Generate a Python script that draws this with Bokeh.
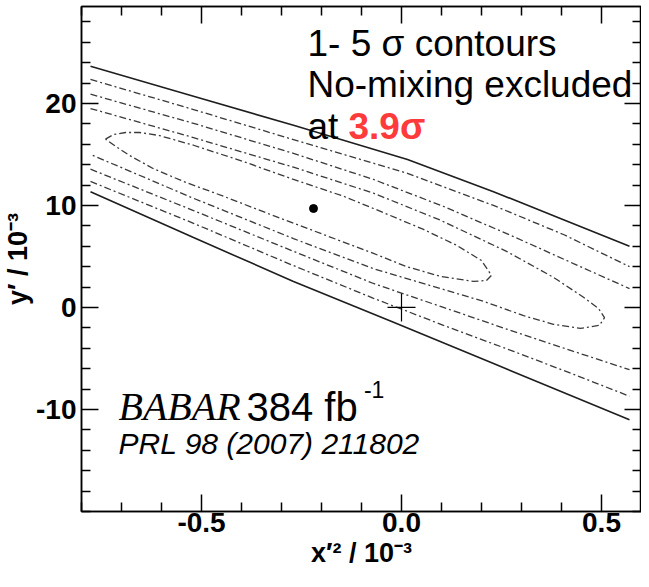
from bokeh.plotting import figure
from bokeh.models import Range1d, LinearAxis, FixedTicker, Label
from bokeh.embed import file_html
from bokeh.resources import INLINE

try:
    from bokeh.core.enums import CoordinateUnits
    CANVAS = "canvas" if "canvas" in CoordinateUnits else "screen"
except Exception:
    CANVAS = "screen"

# ---- axis ticks ----
x_ticks = [-0.5, 0.0, 0.5]
x_tick_labels = ["-0.5", "0.0", "0.5"]
x_minor = [-0.8, -0.7, -0.6, -0.4, -0.3, -0.2, -0.1, 0.1, 0.2, 0.3, 0.4, 0.6]
y_ticks = [-10, 0, 10, 20]
y_tick_labels = ["-10", "0", "10", "20"]
y_minor = [-20, -18, -16, -14, -12, -8, -6, -4, -2, 2, 4, 6, 8,
           12, 14, 16, 18, 22, 24, 26, 28]

# ---- contours ----
# 5 sigma (solid), upper and lower branch
c5_top_x = [-0.7775, -0.52, -0.27, 0.015, 0.23, 0.405, 0.57]
c5_top_y = [23.65, 20.7, 17.85, 14.5, 11.35, 8.6, 6.0]
c5_bot_x = [-0.7775, -0.52, -0.27, -0.02, 0.23, 0.57]
c5_bot_y = [11.35, 6.85, 2.55, -1.45, -5.5, -11.0]
# 4 sigma (dash-dot)
c4_top_x = [-0.7775, -0.52, -0.27, 0.015, 0.23, 0.405, 0.57]
c4_top_y = [22.35, 19.4, 16.45, 13.15, 10.0, 7.15, 4.0]
c4_bot_x = [-0.7775, -0.52, -0.27, -0.07, 0.105, 0.28, 0.43, 0.57]
c4_bot_y = [12.35, 8.25, 4.1, 0.9, -1.75, -4.3, -6.55, -8.7]
# 3 sigma (dash-dot)
c3_top_x = [-0.7775, -0.52, -0.27, -0.07, 0.105, 0.28, 0.43, 0.57]
c3_top_y = [20.9, 18.05, 15.1, 12.55, 9.9, 6.95, 4.3, 1.85]
c3_bot_x = [-0.7775, -0.52, -0.27, -0.07, 0.105, 0.28, 0.43, 0.57]
c3_bot_y = [13.55, 9.5, 5.5, 2.35, 0.0, -2.35, -4.3, -6.1]
# 2 sigma (dash-dot), closes on the right
c2_x = [-0.7775, -0.52, -0.27, -0.07, 0.0975, 0.2625, 0.38, 0.455,
        0.4925, 0.5075, 0.495, 0.4475, 0.38, 0.305, 0.205, 0.0975, -0.07,
        -0.27, -0.52, -0.7775]
c2_y = [19.5, 16.65, 13.75, 11.2, 8.55, 5.5, 2.95, 1.0,
        -0.1, -1.0, -1.75, -2.05, -1.65, -0.8, 0.6, 1.85, 3.8,
        6.75, 10.7, 15.0]
# 1 sigma (dash-dot), closed
c1_x = [-0.74, -0.72, -0.69, -0.655, -0.605, -0.52, -0.395, -0.27, -0.145,
        -0.07, 0.055, 0.1375, 0.20, 0.225, 0.2125, 0.18, 0.0975, 0.0125,
        -0.07, -0.195, -0.32, -0.445, -0.545, -0.62, -0.68, -0.715, -0.74]
c1_y = [16.5, 16.95, 17.15, 17.15, 16.85, 15.9, 14.3, 12.55, 10.9,
        9.7, 7.65, 6.1, 4.6, 3.15, 2.65, 2.55, 3.05, 4.0,
        5.3, 7.15, 9.0, 10.9, 12.35, 13.6, 14.9, 15.8, 16.5]
# best fit point and no-mixing point
fit_x = [-0.22]
fit_y = [9.7]
nomix_x = [0.0]
nomix_y = [0.0]

FONT = "Liberation Sans"

p = figure(width=641, height=579,
           x_range=Range1d(-0.8, 0.6), y_range=Range1d(-20, 29.5),
           output_backend="svg", toolbar_location=None,
           min_border_left=77, min_border_right=0,
           min_border_top=6, min_border_bottom=68,
           x_axis_label="x\u2032\u00b2 / 10\u207b\u00b3",
           y_axis_label="y\u2032 / 10\u207b\u00b3")
p.background_fill_color = "white"
p.border_fill_color = "white"
p.outline_line_color = "black"
p.outline_line_width = 1.5
p.xgrid.visible = False
p.ygrid.visible = False


def style_axis(ax, ticks, minor, labels, show_labels):
    ax.ticker = FixedTicker(ticks=ticks, minor_ticks=minor)
    ax.axis_line_color = "black"
    ax.axis_line_width = 1.5
    ax.major_tick_in = 17
    ax.major_tick_out = 0
    ax.minor_tick_in = 9
    ax.minor_tick_out = 0
    ax.major_tick_line_width = 1.5
    ax.minor_tick_line_width = 1.5
    ax.major_tick_line_color = "black"
    ax.minor_tick_line_color = "black"
    if show_labels:
        ax.major_label_overrides = {t: l for t, l in zip(ticks, labels)}
        ax.major_label_text_font = FONT
        ax.major_label_text_font_size = "28px"
        ax.major_label_text_font_style = "bold"
        ax.major_label_text_color = "black"
        ax.axis_label_text_font = FONT
        ax.axis_label_text_font_size = "27px"
        ax.axis_label_text_font_style = "bold"
        ax.axis_label_text_color = "black"
    else:
        ax.major_label_overrides = {t: "" for t in ticks}
        ax.major_label_text_font_size = "0px"
        ax.major_label_standoff = 0


style_axis(p.xaxis[0], x_ticks, x_minor, x_tick_labels, True)
style_axis(p.yaxis[0], y_ticks, y_minor, y_tick_labels, True)
p.xaxis[0].major_label_standoff = 1
p.xaxis[0].axis_label_standoff = 3
p.yaxis[0].major_label_standoff = 5
p.yaxis[0].axis_label_standoff = 0

top_axis = LinearAxis()
style_axis(top_axis, x_ticks, x_minor, x_tick_labels, False)
p.add_layout(top_axis, "above")
right_axis = LinearAxis()
style_axis(right_axis, y_ticks, y_minor, y_tick_labels, False)
p.add_layout(right_axis, "right")

SOLID = dict(line_color="#1e1e1e", line_width=1.6)
DD = dict(line_color="#3a3a3a", line_width=1.3, line_dash="7 3 2 3")

p.line(c5_top_x, c5_top_y, **SOLID)
p.line(c5_bot_x, c5_bot_y, **SOLID)
p.line(c4_top_x, c4_top_y, **DD)
p.line(c4_bot_x, c4_bot_y, **DD)
p.line(c3_top_x, c3_top_y, **DD)
p.line(c3_bot_x, c3_bot_y, **DD)
p.line(c2_x, c2_y, **DD)
p.line(c1_x, c1_y, **DD)

p.scatter(fit_x, fit_y, marker="circle", size=8, color="black")
p.scatter(nomix_x, nomix_y, marker="cross", size=28,
          line_color="black", line_width=1.2)

def add_text(x, y, text, font=FONT, size="37px", style="normal",
             color="black", units="data", level="annotation"):
    p.add_layout(Label(x=x, y=y, text=text, text_font=font,
                       text_font_size=size, text_font_style=style,
                       text_color=color, text_align="left",
                       text_baseline="alphabetic",
                       x_units=units, y_units=units, level=level))

add_text(-0.235, 25.88, "1- 5 \u03c3 contours")
add_text(-0.235, 21.86, "No-mixing excluded")
add_text(-0.235, 17.75, "at")
add_text(-0.1325, 17.75, "3.9\u03c3", style="bold", color="#fe3b3b")

add_text(-0.7075, -9.71, "BABAR", font="Liberation Serif", size="40px",
         style="italic")
add_text(-0.3875, -9.71, "384 fb", size="40px")
add_text(-0.094, -8.0, "-1", size="23px")
add_text(-0.7075, -13.33, "PRL 98 (2007) 211802", size="30px", style="italic")

# stray fragment at the lower-left corner of the picture
add_text(1, 574, "3", size="26px", style="bold", units=CANVAS,
         level="overlay")

open("out.html", "w").write(file_html(p, INLINE))
